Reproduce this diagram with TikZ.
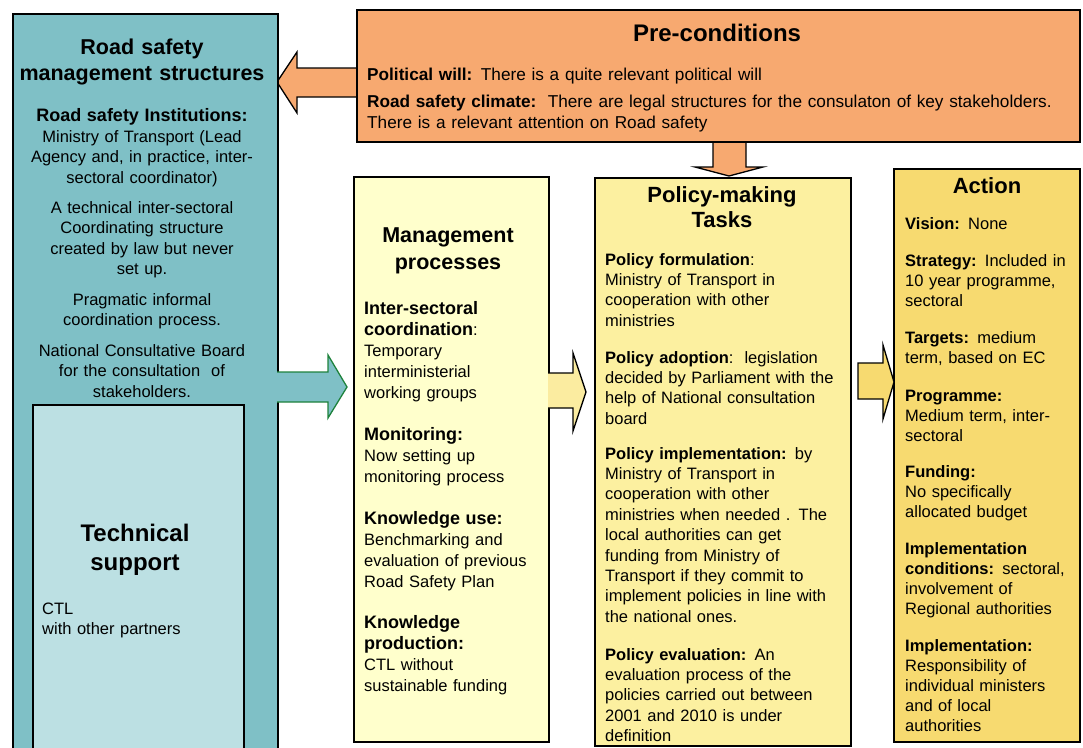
\documentclass[tikz,border=0pt]{standalone}
\usepackage{fontspec}
\setmainfont{Liberation Sans}
\definecolor{rsteal}{RGB}{127,192,198}
\definecolor{rsinner}{RGB}{188,224,227}
\definecolor{rsorange}{RGB}{247,169,112}
\definecolor{rsmgmt}{RGB}{255,255,204}
\definecolor{rspolicy}{RGB}{252,240,160}
\definecolor{rsaction}{RGB}{247,218,112}
\definecolor{rsarrowy}{RGB}{251,236,160}
\definecolor{rsgreen}{RGB}{30,130,60}
\newcommand{\rsbody}{\fontsize{16.5}{20.4}\selectfont}
\newcommand{\rsleft}{\fontsize{16.5}{20.6}\selectfont}
\newcommand{\rsmg}{\fontsize{16.5}{21}\selectfont}
\newcommand{\rsac}{\fontsize{16.5}{20.2}\selectfont}
\newcommand{\rsmh}[1]{{\fontsize{18}{21}\selectfont\bfseries #1}}
\begin{document}
\begin{tikzpicture}[x=1pt,y=-1pt,
  box/.style={draw=black, line width=1.8pt, inner sep=0pt, anchor=north west},
  para/.style={anchor=north west, inner sep=0pt, align=left},
  cpara/.style={anchor=north, inner sep=0pt, align=center},
  barrow/.style={draw=black, line width=1.3pt, line join=miter}]
\useasboundingbox (0,0) rectangle (1083,747);
\clip (0,0) rectangle (1083,747);
% arrows lying under the pre-conditions box
\draw[barrow, fill=rsorange] (277,82) -- (297,52) -- (297,68) -- (362,68) -- (362,97) -- (297,97) -- (297,113) -- cycle;
\draw[barrow, fill=rsorange] (713,136) -- (746,136) -- (746,167) -- (763,167) -- (729,176) -- (695,167) -- (713,167) -- cycle;
% boxes
\node[box, fill=rsteal, minimum width=265pt, minimum height=760pt] (rsms) at (12,13) {};
\node[box, fill=rsinner, line width=1.5pt, minimum width=211pt, minimum height=370pt] (tech) at (32,404) {};
\node[box, fill=rsorange, minimum width=723pt, minimum height=132pt] (pre) at (356,9) {};
\node[box, fill=rsmgmt, minimum width=195pt, minimum height=565pt] (mgmt) at (353,176) {};
\node[box, fill=rspolicy, minimum width=256pt, minimum height=568pt] (policy) at (594,177) {};
\node[box, fill=rsaction, minimum width=186pt, minimum height=573pt] (action) at (893,168) {};
% block arrows between columns
\fill[rsteal] (277,372) -- (328,372) -- (328,355) -- (347,387) -- (328,418) -- (328,402) -- (277,402) -- cycle;
\draw[rsgreen, line width=1.3pt, line join=miter] (277,372) -- (328,372) -- (328,355) -- (347,387) -- (328,418) -- (328,402) -- (277,402);
\fill[rsarrowy] (548,373) -- (573,373) -- (573,353) -- (586,392) -- (573,431) -- (573,408) -- (548,408) -- cycle;
\draw[black, line width=1.3pt, line join=miter] (548,373) -- (573,373) -- (573,353) -- (586,392) -- (573,431) -- (573,408) -- (548,408);
\draw[barrow, fill=rsaction] (858,363) -- (883,363) -- (883,345) -- (894,382) -- (883,419) -- (883,399) -- (858,399) -- cycle;
% left column texts
\node[cpara, text width=255pt, font=\fontsize{21.5}{26}\selectfont\bfseries] (rsmsT) at (142,36.5) {\strut Road safety\\management structures};
\node[cpara, text width=255pt, font=\rsleft] (inst) at (142,107.1) {\strut{\fontsize{18}{20.6}\selectfont\bfseries Road safety Institutions:}\\Ministry of Transport (Lead\\Agency and, in practice, inter-\\sectoral coordinator)};
\node[cpara, text width=255pt, font=\rsleft] (coord) at (142,198.5) {\strut A technical inter-sectoral\\Coordinating structure\\created by law but never\\set up.};
\node[cpara, text width=255pt, font=\rsleft] (prag) at (142,290.5) {\strut Pragmatic informal\\coordination process.};
\node[cpara, text width=255pt, font=\rsleft] (ncb) at (142,341.5) {\strut National Consultative Board\\for the consultation\ \ of\\stakeholders.};
\node[cpara, text width=205pt, font=\fontsize{24}{29}\selectfont\bfseries] (techT) at (135,521.3) {\strut Technical\\support};
\node[para, text width=195pt, font=\rsbody] (ctl) at (42,599.7) {\strut CTL\\with other partners};
% pre-conditions texts
\node[anchor=base, inner sep=0pt, font=\fontsize{24}{28}\selectfont\bfseries] (preT) at (717,41.6) {Pre-conditions};
\node[para, text width=712pt, font=\fontsize{17.2}{21}\selectfont] (pw) at (367,65.5) {\strut\textbf{Political will:} There is a quite relevant political will};
\node[para, text width=712pt, font=\fontsize{17.2}{21}\selectfont] (rsc) at (367,92.5) {\strut\textbf{Road safety climate:}\ \ There are legal structures for the consulaton of key stakeholders.\\There is a relevant attention on Road safety};
% management processes
\node[cpara, text width=190pt, font=\fontsize{21.5}{27}\selectfont\bfseries] (mgmtT) at (448,223.3) {\strut Management\\processes};
\node[para, text width=185pt, font=\rsmg] (inter) at (364,299.8) {\strut\rsmh{Inter-sectoral}\\\rsmh{coordination}:\\Temporary\\interministerial\\working groups};
\node[para, text width=185pt, font=\rsmg] (mon) at (364,425.8) {\strut\rsmh{Monitoring:}\\Now setting up\\monitoring process};
\node[para, text width=185pt, font=\rsmg] (kuse) at (364,509.8) {\strut\rsmh{Knowledge use:}\\Benchmarking and\\evaluation of previous\\Road Safety Plan};
\node[para, text width=185pt, font=\rsmg] (kprod) at (364,613.8) {\strut\rsmh{Knowledge}\\\rsmh{production:}\\CTL without\\sustainable funding};
% policy-making tasks
\node[cpara, text width=250pt, font=\fontsize{22}{25.5}\selectfont\bfseries] (policyT) at (722,184.1) {\strut Policy-making\\Tasks};
\node[para, text width=244pt, font=\rsbody] (pf) at (605,250.7) {\strut\textbf{Policy formulation}:\\Ministry of Transport in\\cooperation with other\\ministries};
\node[para, text width=244pt, font=\rsbody] (pa) at (605,348.7) {\strut\textbf{Policy adoption}:\ \ legislation\\decided by Parliament with the\\help of National consultation\\board};
\node[para, text width=244pt, font=\rsbody] (pi) at (605,444.7) {\strut\textbf{Policy implementation:} by\\Ministry of Transport in\\cooperation with other\\ministries when needed . The\\local authorities can get\\funding from Ministry of\\Transport if they commit to\\implement policies in line with\\the national ones.};
\node[para, text width=244pt, font=\rsbody] (pe) at (605,645.7) {\strut\textbf{Policy evaluation:} An\\evaluation process of the\\policies carried out between\\2001 and 2010 is under\\definition};
% action
\node[anchor=base, inner sep=0pt, font=\fontsize{22}{26}\selectfont\bfseries] (actionT) at (987,193) {Action};
\node[para, text width=172pt, font=\rsac] (vis) at (905,214.8) {\strut\textbf{Vision:} None};
\node[para, text width=172pt, font=\rsac] (strat) at (905,251.8) {\strut\textbf{Strategy:} Included in\\10 year programme,\\sectoral};
\node[para, text width=172pt, font=\rsac] (targ) at (905,328.8) {\strut\textbf{Targets:} medium\\term, based on EC};
\node[para, text width=172pt, font=\rsac] (prog) at (905,386.8) {\strut\textbf{Programme:}\\Medium term, inter-\\sectoral};
\node[para, text width=172pt, font=\rsac] (fund) at (905,462.8) {\strut\textbf{Funding:}\\No specifically\\allocated budget};
\node[para, text width=172pt, font=\rsac] (icond) at (905,539.8) {\strut\textbf{Implementation}\\\textbf{conditions:} sectoral,\\involvement of\\Regional authorities};
\node[para, text width=172pt, font=\rsac] (impl) at (905,636.8) {\strut\textbf{Implementation:}\\Responsibility of\\individual ministers\\and of local\\authorities};
\end{tikzpicture}
\end{document}
